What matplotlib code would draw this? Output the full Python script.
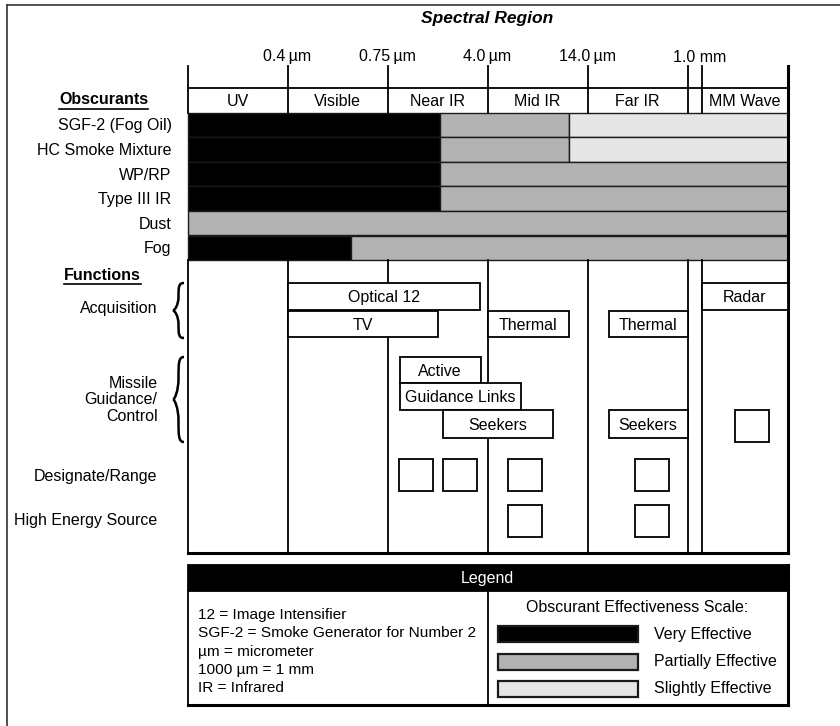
import matplotlib
matplotlib.use("Agg")
import matplotlib.pyplot as plt
from matplotlib.patches import Rectangle, PathPatch
from matplotlib.path import Path

plt.rcParams['font.family'] = ['Liberation Sans', 'DejaVu Sans']

# spectral bands (x in band units, one unit per band)
regions = ['UV', 'Visible', 'Near IR', 'Mid IR', 'Far IR', '', 'MM Wave']
region_edges = [0, 1, 2, 3, 4, 5, 5.14, 6]
boundary_labels = ['0.4\u2009µm', '0.75\u2009µm', '4.0\u2009µm', '14.0\u2009µm', '1.0 mm']
boundary_pos = [1, 2, 3, 4, 5.12]

# obscurant effectiveness segments: (start, end, level)
obscurants = ['SGF-2 (Fog Oil)', 'HC Smoke Mixture', 'WP/RP', 'Type III IR', 'Dust', 'Fog']
obscurant_segments = [
    [(0, 2.52, 'very'), (2.52, 3.81, 'partial'), (3.81, 6, 'slight')],
    [(0, 2.52, 'very'), (2.52, 3.81, 'partial'), (3.81, 6, 'slight')],
    [(0, 2.52, 'very'), (2.52, 6, 'partial')],
    [(0, 2.52, 'very'), (2.52, 6, 'partial')],
    [(0, 6, 'partial')],
    [(0, 1.63, 'very'), (1.63, 6, 'partial')],
]
level_colors = {'very': '#000000', 'partial': '#b2b2b2', 'slight': '#e6e6e6'}
level_names = ['Very Effective', 'Partially Effective', 'Slightly Effective']

# function boxes: (label, x0, x1, tier)
function_boxes = [
    ('Optical 12', 1.0, 2.92, 0),
    ('Radar', 5.14, 6.0, 0),
    ('TV', 1.0, 2.5, 1),
    ('Thermal', 3.0, 3.81, 1),
    ('Thermal', 4.21, 5.0, 1),
    ('Active', 2.12, 2.93, 2),
    ('Guidance Links', 2.12, 3.33, 3),
    ('Seekers', 2.55, 3.65, 4),
    ('Seekers', 4.21, 5.0, 4),
]
# empty squares: (x0, tier)
function_squares = [(5.47, 4), (2.11, 5), (2.555, 5), (3.2, 5), (4.47, 5),
                    (3.2, 6), (4.47, 6)]
tier_top = [283, 311, 357, 383, 410, 459, 505]
tier_height = [27, 26, 26, 27, 28, 32, 33]

legend_notes = ['12 = Image Intensifier', 'SGF-2 = Smoke Generator for Number 2',
                'µm = micrometer', '1000 µm = 1 mm', 'IR = Infrared']

fig = plt.figure(figsize=(8.4, 7.26), dpi=100)
ax = fig.add_axes([0, 0, 1, 1])
ax.set_xlim(-1.875, 6.525)
ax.set_ylim(726, 0)
ax.axis('off')

LW = 1.3
FS = 11.5

# outer frame (left and top only visible)
ax.plot([-1.81, -1.81], [5, 726], color='#333333', lw=1.2)
ax.plot([-1.81, 6.525], [5, 5], color='#333333', lw=1.2)

ax.text(3.0, 19, 'Spectral Region', ha='center', va='center', fontsize=12.5,
        fontweight='bold', fontstyle='italic')

# boundary labels and ticks
for lab, x in zip(boundary_labels, boundary_pos):
    ax.text(x, 57, lab, ha='center', va='center', fontsize=FS)
head_top, head_bot = 88, 112.5
for x in region_edges:
    ax.plot([x, x], [66, head_bot], color='black', lw=LW)
ax.plot([0, 6], [head_top, head_top], color='black', lw=LW)
for name, x0, x1 in zip(regions, region_edges[:-1], region_edges[1:]):
    if name:
        ax.text((x0 + x1) / 2, (head_top + head_bot) / 2 + 1, name,
                ha='center', va='center', fontsize=FS)

# obscurant rows
row_top, row_h = 112.5, 24.6
ob_label = ax.text(-0.84, 100, 'Obscurants', ha='center', va='center',
                   fontsize=FS, fontweight='bold')
for i, (name, segs) in enumerate(zip(obscurants, obscurant_segments)):
    y0 = row_top + i * row_h
    for s, e, lev in segs:
        ax.add_patch(Rectangle((s, y0), e - s, row_h, facecolor=level_colors[lev],
                               edgecolor='#1a1a1a', lw=1.0))
    ax.text(-0.16, y0 + row_h / 2 + 1, name, ha='right', va='center', fontsize=FS)

# functions area
f_top, f_bot = row_top + 6 * row_h, 553
for x in region_edges:
    ax.plot([x, x], [f_top, f_bot], color='black', lw=LW, zorder=1)
ax.plot([6, 6], [66, f_bot], color='black', lw=2.2, zorder=1)
ax.plot([0, 6], [f_bot, f_bot], color='black', lw=2.2, zorder=1)
fn_label = ax.text(-0.85, 275, 'Functions', ha='center', va='center',
                   fontsize=FS, fontweight='bold')

for lab, x0, x1, t in function_boxes:
    y0, h = tier_top[t], tier_height[t]
    ax.add_patch(Rectangle((x0, y0), x1 - x0, h, facecolor='white',
                           edgecolor='black', lw=LW, zorder=3))
    ax.text((x0 + x1) / 2, y0 + h / 2 + 1, lab, ha='center', va='center',
            fontsize=FS, zorder=4)
for x0, t in function_squares:
    y0 = tier_top[t]
    ax.add_patch(Rectangle((x0, y0), 0.34, 32, facecolor='white',
                           edgecolor='black', lw=LW, zorder=3))

# left-side function labels
ax.text(-0.3, 309, 'Acquisition', ha='right', va='center', fontsize=FS)
ax.text(-0.3, 400, 'Missile\nGuidance/\nControl', ha='right', va='center',
        fontsize=FS, linespacing=1.15)
ax.text(-0.3, 476, 'Designate/Range', ha='right', va='center', fontsize=FS)
ax.text(-0.3, 521, 'High Energy Source', ha='right', va='center', fontsize=FS)


def brace(y0, y1, xl=-0.145, xr=-0.035):
    xm = (xl + xr) / 2
    ym = (y0 + y1) / 2
    h = (y1 - y0) / 2
    verts = [(xr, y0),
             (xm, y0), (xm, y0 + 0.15 * h), (xm, y0 + 0.5 * h),
             (xm, ym - 0.2 * h), (xl + 0.3 * (xm - xl), ym), (xl, ym),
             (xl + 0.3 * (xm - xl), ym), (xm, ym + 0.2 * h), (xm, ym + 0.5 * h),
             (xm, y1 - 0.15 * h), (xm, y1), (xr, y1)]
    codes = [Path.MOVETO] + [Path.CURVE4] * 12
    ax.add_patch(PathPatch(Path(verts, codes), facecolor='none',
                           edgecolor='black', lw=1.8))


brace(283, 338)
brace(357, 442)

# legend box
lg_top, lg_head, lg_bot = 565, 591, 705
ax.add_patch(Rectangle((0, lg_top), 6, lg_head - lg_top, facecolor='black',
                       edgecolor='black', lw=LW))
ax.text(3.0, (lg_top + lg_head) / 2 + 1, 'Legend', color='white', ha='center',
        va='center', fontsize=FS)
ax.add_patch(Rectangle((0, lg_head), 6, lg_bot - lg_head, facecolor='white',
                       edgecolor='black', lw=LW))
ax.plot([6, 6], [lg_top, lg_bot], color='black', lw=2.2)
ax.plot([0, 6], [lg_bot, lg_bot], color='black', lw=2.2)
ax.plot([3.0, 3.0], [lg_head, lg_bot], color='black', lw=LW)
for i, note in enumerate(legend_notes):
    ax.text(0.1, 615 + i * 18.3, note, ha='left', va='center', fontsize=11.1)
ax.text(4.5, 608, 'Obscurant Effectiveness Scale:', ha='center', va='center',
        fontsize=FS)
for i, (lev, name) in enumerate(zip(['very', 'partial', 'slight'], level_names)):
    y = 626 + i * 27.5
    ax.add_patch(Rectangle((3.1, y), 1.4, 16, facecolor=level_colors[lev],
                           edgecolor='#1a1a1a', lw=1.6))
    ax.text(4.67, y + 8, name, ha='left', va='center', fontsize=FS)

# underline section headings
fig.canvas.draw()
inv = ax.transData.inverted()
for t in (ob_label, fn_label):
    bb = t.get_window_extent()
    (x0, yb), (x1, _) = inv.transform([(bb.x0, bb.y0), (bb.x1, bb.y1)])
    ax.plot([x0, x1], [yb + 1.5, yb + 1.5], color='black', lw=1.2)

fig.savefig('out.png', dpi=100)
